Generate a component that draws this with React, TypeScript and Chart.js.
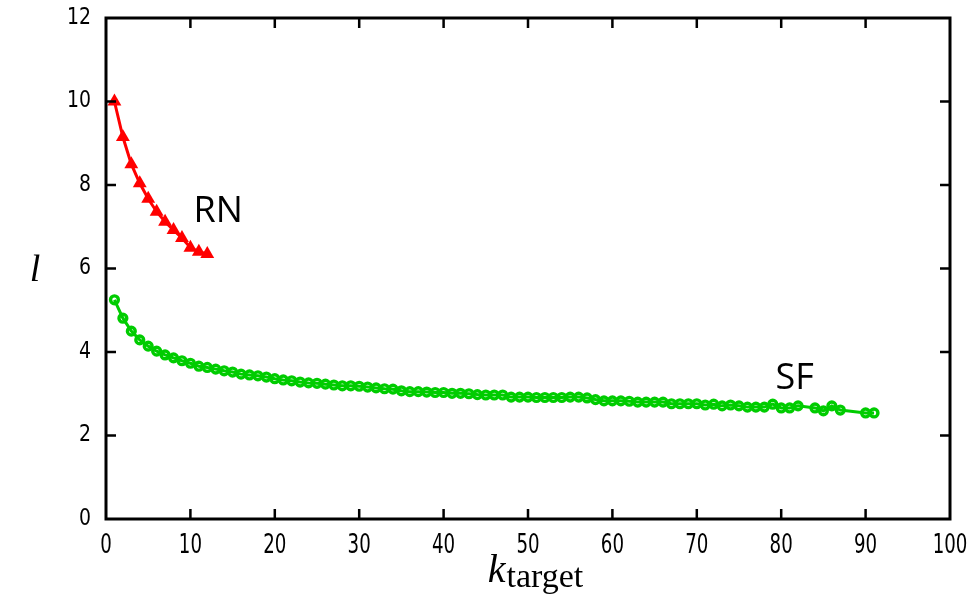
import React, { useEffect, useRef } from "react";
import { Chart, registerables } from "chart.js";

Chart.register(...registerables);

const rnK = [1, 2, 3, 4, 5, 6, 7, 8, 9, 10, 11, 12];
const rnL = [10.0, 9.15, 8.5, 8.04, 7.67, 7.36, 7.12, 6.92, 6.73, 6.5, 6.4, 6.35];

const sfK = [
  1, 2, 3, 4, 5, 6, 7, 8, 9, 10, 11, 12, 13, 14, 15, 16, 17, 18, 19, 20,
  21, 22, 23, 24, 25, 26, 27, 28, 29, 30, 31, 32, 33, 34, 35, 36, 37, 38, 39, 40,
  41, 42, 43, 44, 45, 46, 47, 48, 49, 50, 51, 52, 53, 54, 55, 56, 57, 58, 59, 60,
  61, 62, 63, 64, 65, 66, 67, 68, 69, 70, 71, 72, 73, 74, 75, 76, 77, 78, 79, 80,
  81, 82, 84, 85, 86, 87, 90, 91,
];
const sfL = [
  5.25, 4.81, 4.5, 4.29, 4.14, 4.02, 3.93, 3.86, 3.79, 3.73, 3.66, 3.63, 3.59, 3.55, 3.52, 3.47, 3.45, 3.43, 3.4, 3.36,
  3.33, 3.31, 3.28, 3.26, 3.25, 3.23, 3.21, 3.19, 3.19, 3.18, 3.16, 3.14, 3.12, 3.11, 3.07, 3.05, 3.05, 3.04, 3.03, 3.03,
  3.01, 3.01, 3.0, 2.98, 2.97, 2.97, 2.97, 2.92, 2.92, 2.92, 2.91, 2.91, 2.91, 2.91, 2.92, 2.92, 2.9, 2.86, 2.83, 2.83,
  2.83, 2.82, 2.8, 2.8, 2.8, 2.8, 2.76, 2.76, 2.76, 2.76, 2.73, 2.75, 2.71, 2.73, 2.71, 2.68, 2.68, 2.68, 2.75, 2.66,
  2.66, 2.71, 2.66, 2.59, 2.71, 2.61, 2.54, 2.54,
];

const xTicksMin = 0;
const xTicksMax = 100;
const xStep = 10;
const yTicksMin = 0;
const yTicksMax = 12;
const yStep = 2;

const labels = [
  { text: "RN", k: 13.3, l: 7.35 },
  { text: "SF", k: 81.6, l: 3.36 },
];

const RED = "#ff0000";
const GREEN = "#00cc00";

const framePlugin = {
  id: "frameTicks",
  afterDraw(chart: any) {
    const ctx = chart.ctx;
    const { left, right, top, bottom } = chart.chartArea;
    const xs = chart.scales.x;
    const ys = chart.scales.y;
    ctx.save();
    ctx.strokeStyle = "#000";
    ctx.lineWidth = 3;
    ctx.strokeRect(left, top, right - left, bottom - top);
    ctx.lineWidth = 2.5;
    const tl = 10;
    ctx.beginPath();
    for (let v = xTicksMin + xStep; v < xTicksMax; v += xStep) {
      const px = xs.getPixelForValue(v);
      ctx.moveTo(px, bottom);
      ctx.lineTo(px, bottom - tl);
      ctx.moveTo(px, top);
      ctx.lineTo(px, top + tl);
    }
    for (let v = yTicksMin + yStep; v < yTicksMax; v += yStep) {
      const py = ys.getPixelForValue(v);
      ctx.moveTo(left, py);
      ctx.lineTo(left + tl, py);
      ctx.moveTo(right, py);
      ctx.lineTo(right - tl, py);
    }
    ctx.stroke();

    ctx.fillStyle = "#000";
    ctx.textBaseline = "middle";

    // x tick labels (tall, narrow glyphs as in the reference)
    ctx.textAlign = "center";
    ctx.font = '26px "DejaVu Sans"';
    for (const t of xs.ticks) {
      const px = xs.getPixelForValue(t.value);
      ctx.save();
      ctx.translate(px, bottom + 27);
      ctx.scale(0.7, 1);
      ctx.fillText(String(t.value), 0, 0);
      ctx.restore();
    }

    // y tick labels
    ctx.textAlign = "right";
    ctx.font = '23px "DejaVu Sans"';
    for (const t of ys.ticks) {
      const py = ys.getPixelForValue(t.value);
      ctx.save();
      ctx.translate(left - 15, py);
      ctx.scale(0.82, 1);
      ctx.fillText(String(t.value), 0, 0);
      ctx.restore();
    }

    // annotations
    ctx.textAlign = "center";
    ctx.font = '36px "Open Sans"';
    for (const lb of labels) {
      ctx.fillText(lb.text, xs.getPixelForValue(lb.k), ys.getPixelForValue(lb.l));
    }

    // y title
    ctx.font = 'italic 38px "Liberation Serif"';
    ctx.textBaseline = "alphabetic";
    ctx.fillText("l", 35, 281);

    // x title
    ctx.font = 'italic 40px "Liberation Serif"';
    const kW = ctx.measureText("k").width;
    ctx.font = '34px "Liberation Serif"';
    const tW = ctx.measureText("target").width;
    const cx = 535;
    const start = cx - (kW + tW) / 2;
    ctx.textAlign = "left";
    ctx.font = 'italic 40px "Liberation Serif"';
    ctx.fillText("k", start, 582);
    ctx.font = '34px "Liberation Serif"';
    ctx.fillText("target", start + kW + 1, 587);
    ctx.restore();
  },
};

export default function App() {
  const ref = useRef<HTMLCanvasElement>(null);
  useEffect(() => {
    if (!ref.current) return;
    const chart = new Chart(ref.current, {
      type: "scatter",
      data: {
        datasets: [
          {
            label: "SF",
            data: sfK.map((k, i) => ({ x: k, y: sfL[i] })),
            showLine: true,
            borderColor: GREEN,
            borderWidth: 3,
            pointStyle: "circle",
            pointRadius: 3.9,
            pointBorderWidth: 3.4,
            pointBorderColor: GREEN,
            pointBackgroundColor: "rgba(0,0,0,0)",
          },
          {
            label: "RN",
            data: rnK.map((k, i) => ({ x: k, y: rnL[i] })),
            showLine: true,
            borderColor: RED,
            borderWidth: 3,
            pointStyle: "triangle",
            pointRadius: 8,
            pointBorderWidth: 0,
            pointBackgroundColor: RED,
            pointBorderColor: RED,
          },
        ],
      },
      options: {
        animation: false,
        responsive: false,
        maintainAspectRatio: false,
        layout: { padding: { top: 18, right: 28, left: 0, bottom: 0 } },
        plugins: { legend: { display: false }, tooltip: { enabled: false } },
        scales: {
          x: {
            type: "linear",
            min: xTicksMin,
            max: xTicksMax,
            grid: { display: false, drawTicks: false },
            border: { display: false },
            ticks: { stepSize: xStep, display: false },
            afterFit(s: any) {
              s.height = 77;
              s.paddingLeft = 0;
              s.paddingRight = 0;
            },
          },
          y: {
            type: "linear",
            min: yTicksMin,
            max: yTicksMax,
            grid: { display: false, drawTicks: false },
            border: { display: false },
            ticks: { stepSize: yStep, display: false },
            afterFit(s: any) {
              s.width = 106;
              s.paddingTop = 0;
              s.paddingBottom = 0;
            },
          },
        },
      },
      plugins: [framePlugin],
    });
    return () => chart.destroy();
  }, []);
  return (
    <div style={{ position: "fixed", left: 0, top: 0, width: 978, height: 596, background: "#fff" }}>
      <canvas ref={ref} width={978} height={596} style={{ width: 978, height: 596, display: "block" }} />
    </div>
  );
}
